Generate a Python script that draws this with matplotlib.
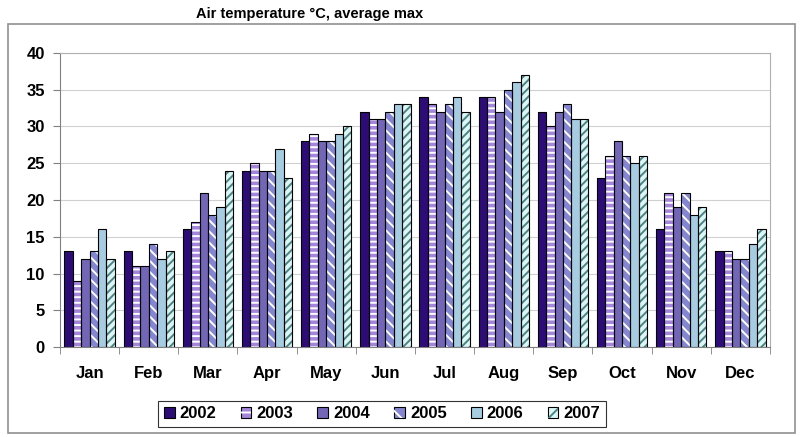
import numpy as np
import matplotlib
matplotlib.use("Agg")
import matplotlib.pyplot as plt
from matplotlib.patches import Patch, Rectangle
from matplotlib.legend_handler import HandlerTuple

plt.rcParams["font.family"] = ["Liberation Sans", "DejaVu Sans"]
plt.rcParams["hatch.linewidth"] = 1.4

months = ["Jan", "Feb", "Mar", "Apr", "May", "Jun",
          "Jul", "Aug", "Sep", "Oct", "Nov", "Dec"]
years = ["2002", "2003", "2004", "2005", "2006", "2007"]

t2002 = [13, 13, 16, 24, 28, 32, 34, 34, 32, 23, 16, 13]
t2003 = [9, 11, 17, 25, 29, 31, 33, 34, 30, 26, 21, 13]
t2004 = [12, 11, 21, 24, 28, 31, 32, 32, 32, 28, 19, 12]
t2005 = [13, 14, 18, 24, 28, 32, 33, 35, 33, 26, 21, 12]
t2006 = [16, 12, 19, 27, 29, 33, 34, 36, 31, 25, 18, 14]
t2007 = [12, 13, 24, 23, 30, 33, 32, 37, 31, 26, 19, 16]
series = [t2002, t2003, t2004, t2005, t2006, t2007]

# fill colour, hatch pattern, hatch colour per year
fills = ["#2e0c78", "#a585dc", "#7466b6", "#8486d2", "#a6cce2", "#dcf6f6"]
hatches = [None, "---", None, "\\\\\\", None, "////"]
hatch_colors = [None, "white", None, "white", None, "#4a8484"]

fig = plt.figure(figsize=(8.01, 4.37), dpi=100)
ax = fig.add_axes([60 / 801, 90 / 437, 710 / 801, 294 / 437])

x = np.arange(len(months))
group = 0.85
w = group / len(years)

handles = []
for i, vals in enumerate(series):
    pos = x - group / 2 + w * (i + 0.5)
    ax.bar(pos, vals, w, color=fills[i], linewidth=0, zorder=2)
    if hatches[i]:
        ax.bar(pos, vals, w, color="none", edgecolor=hatch_colors[i],
               hatch=hatches[i], linewidth=0, zorder=3)
    ax.bar(pos, vals, w, color="none", edgecolor="black", linewidth=0.8, zorder=4)

    base = Patch(facecolor=fills[i], edgecolor="black", linewidth=0.8)
    if hatches[i]:
        overlay = Patch(facecolor="none", edgecolor=hatch_colors[i],
                        hatch=hatches[i][:2], linewidth=0)
        handles.append((base, overlay))
    else:
        handles.append((base,))

ax.set_ylim(0, 40)
ax.set_yticks(range(0, 41, 5))
ax.set_xlim(-0.5, len(months) - 0.5)
ax.set_xticks(x)
ax.set_xticklabels(months)
ax.set_xticks(np.arange(-0.5, len(months)), minor=True)
ax.tick_params(axis="x", which="major", length=0, pad=14)
ax.tick_params(axis="x", which="minor", length=5, color="#808080")
ax.tick_params(axis="y", length=5, color="#808080", pad=6)
for lab in ax.get_xticklabels() + ax.get_yticklabels():
    lab.set_fontweight("bold")
    lab.set_fontsize(12)

ax.grid(axis="y", color="#d0d0d0", linewidth=0.8, zorder=0)
ax.set_axisbelow(True)
for side in ["left", "bottom"]:
    ax.spines[side].set_color("#808080")
for side in ["top", "right"]:
    ax.spines[side].set_color("#b0b0b0")

fig.text(310 / 801, 1 - 14 / 437, "Air temperature °C, average max",
         ha="center", va="center", fontsize=10.5, fontweight="bold")

# chart area border
fig.add_artist(Rectangle((8 / 801, 4 / 437), 787 / 801, (433 - 24) / 437,
                         transform=fig.transFigure, fill=False,
                         edgecolor="#909090", linewidth=1.2))

leg = fig.legend(handles, years, handler_map={tuple: HandlerTuple(ndivide=1)},
                 loc="center", bbox_to_anchor=(382 / 801, 1 - 414 / 437), ncol=6,
                 frameon=True, fancybox=False, handlelength=0.65, handleheight=0.65,
                 handletextpad=0.3, columnspacing=1.45, borderpad=0.35,
                 prop={"weight": "bold", "size": 12})
leg.get_frame().set_edgecolor("black")
leg.get_frame().set_linewidth(0.8)

fig.savefig("out.png", dpi=100)
